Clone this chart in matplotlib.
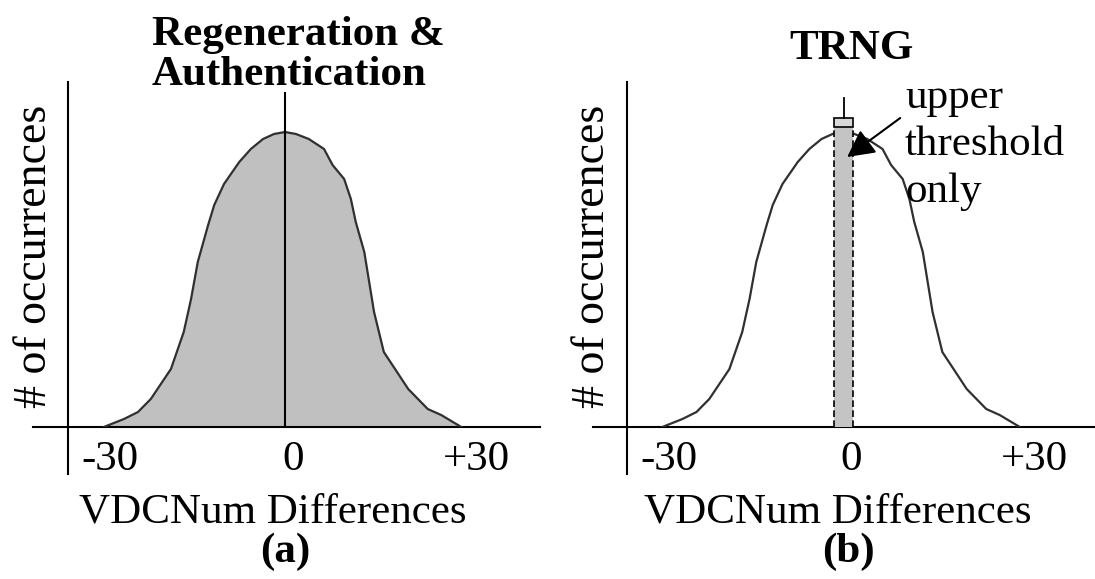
#!/usr/bin/env python3
import matplotlib.pyplot as plt
from matplotlib.transforms import ScaledTranslation

plt.rcParams['font.family'] = ['Liberation Serif', 'DejaVu Serif']

# Bell curve (x in VDCNum units, height in arbitrary counts)
curve_x = [-29.7, -26.4, -24.1, -22.0, -18.7, -16.6, -15.4, -14.3, -12.6, -11.6,
           -10.0, -7.5, -5.6, -3.6, -1.8, 0.0, 1.8, 3.9, 6.4, 7.8,
           9.7, 10.8, 11.6, 13.0, 14.6, 16.2, 20.2, 23.4, 25.6, 28.9]
curve_h = [0, 8, 15, 28, 58, 95, 128, 165, 202, 222,
           243, 265, 278, 288, 293, 295, 293, 288, 278, 262,
           248, 228, 205, 175, 115, 75, 38, 18, 12, 0]

tick_pos = [-30, 0, 30]
tick_labels = ['-30', '0', '+30']

# (a): line at zero;  (b): TRNG window around zero
center_line_h = 334
trng_lo, trng_hi = -1.5, 1.5
trng_h = 309
threshold_box_h = 9
trng_line_h = 329

W, H, DPI = 1095, 579, 100
S = 6.1      # pixels per VDCNum unit
BASE = 427   # baseline pixel row
TOP = 60
FS = 31

fig = plt.figure(figsize=(W / DPI, H / DPI), dpi=DPI)


def panel(px0, px1, cx, xlab_px, ylab_px):
    ax = fig.add_axes([px0 / W, 1 - BASE / H, (px1 - px0) / W, (BASE - TOP) / H])
    ax.set_xlim((px0 - cx) / S, (px1 - cx) / S)
    ax.set_ylim(0, BASE - TOP)
    for s in ax.spines.values():
        s.set_visible(False)
    ax.set_yticks([])
    ax.set_xticks(tick_pos, tick_labels, fontsize=FS)
    ax.tick_params(axis='x', length=0, pad=10)
    shift = ScaledTranslation(8 / DPI, 0, fig.dpi_scale_trans)
    for lab in ax.get_xticklabels():
        lab.set_transform(lab.get_transform() + shift)
    ax.axhline(0, color='black', lw=1.5, clip_on=False)
    ax.plot([(68 - 285) / S] * 2, [-47, 345], color='black', lw=1.5, clip_on=False)
    ax.set_xlabel('VDCNum Differences', fontsize=FS)
    ax.xaxis.set_label_coords((xlab_px - px0) / (px1 - px0), (BASE - 493) / (BASE - TOP))
    ax.set_ylabel('# of occurrences', fontsize=33)
    ax.yaxis.set_label_coords((ylab_px - px0) / (px1 - px0), (BASE - 256) / (BASE - TOP))
    ax.patch.set_alpha(0)
    return ax


# (a) Regeneration & Authentication
ax1 = panel(33, 540, 285, 273, 56)
ax1.fill_between(curve_x, curve_h, 0, color='#c0c0c0', lw=0)
ax1.plot(curve_x, curve_h, color='#303030', lw=1.6)
ax1.plot([0, 0], [0, center_line_h], color='black', lw=1.5)

# (b) TRNG
ax2 = panel(593, 1095, 843.5, 838, 614)
ax2.plot(curve_x, curve_h, color='#303030', lw=1.6, zorder=2)
ax2.bar((trng_lo + trng_hi) / 2, trng_h, width=trng_hi - trng_lo,
        color='#c4c4c4', lw=0, zorder=3)
ax2.vlines([trng_lo, trng_hi], 0, trng_h - threshold_box_h, colors='black',
           linestyles=(0, (4, 2)), lw=1.2, zorder=4)
ax2.bar((trng_lo + trng_hi) / 2, threshold_box_h, bottom=trng_h - threshold_box_h,
        width=trng_hi - trng_lo, facecolor='#d8d8d8', edgecolor='black', lw=1.2, zorder=4)
ax2.plot([0, 0], [trng_h, trng_line_h], color='black', lw=1.3, zorder=4)
ax2.annotate('', xy=(0.6, 270), xytext=(9.3, 309),
             arrowprops=dict(arrowstyle='-|>,head_length=1.66,head_width=0.86',
                             mutation_scale=10, color='black', lw=1.5,
                             shrinkA=0, shrinkB=0), zorder=5)
ax2.text(10.1, 225, 'upper\nthreshold\nonly', fontsize=FS, ha='left', va='baseline',
         linespacing=1.28)

fig.text(152 / W, 1 - 55 / H, 'Regeneration &\nAuthentication', fontsize=FS,
         fontweight='bold', ha='left', va='center', linespacing=1.05)
fig.text(851 / W, 1 - 49 / H, 'TRNG', fontsize=FS, fontweight='bold',
         ha='center', va='center')
fig.text(285 / W, 1 - 552 / H, '(a)', fontsize=FS, fontweight='bold',
         ha='center', va='center')
fig.text(848 / W, 1 - 552 / H, '(b)', fontsize=FS, fontweight='bold',
         ha='center', va='center')

fig.savefig('out.png', dpi=DPI)
